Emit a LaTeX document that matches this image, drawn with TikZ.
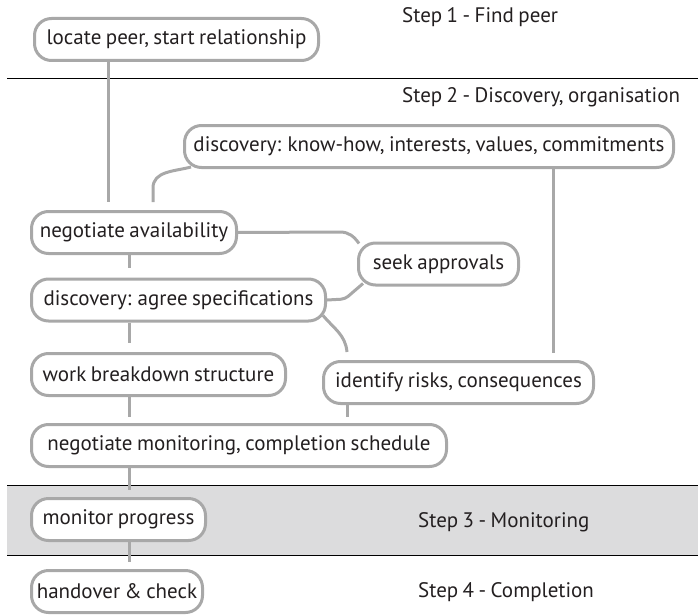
\documentclass[tikz,border=0pt]{standalone}
\usepackage{fontspec}
\setmainfont{PT Sans}[WordSpace=0.8]
\definecolor{pillgray}{HTML}{A8A8A8}
\definecolor{bandgray}{HTML}{DCDCDD}
\definecolor{inkdark}{HTML}{231F20}
\begin{document}
\begin{tikzpicture}[x=1pt,y=-1pt,
  pill/.style={draw=pillgray, line width=3pt, fill=white, rounded corners=17pt,
    minimum height=42pt, inner sep=0pt, text=inkdark,
    font=\fontsize{21}{24}\selectfont},
  conn/.style={draw=pillgray, line width=3pt},
  steplabel/.style={anchor=west, inner sep=0pt, text=inkdark,
    font=\fontsize{21}{24}\selectfont},
  divider/.style={draw=black, line width=0.8pt}]
\useasboundingbox (0,0) rectangle (698,615);

% phase separators and the shaded monitoring band
\fill[bandgray] (7,485) rectangle (698,555);
\draw[divider] (7,78) -- (698,78);
\draw[divider] (7,485) -- (698,485);
\draw[divider] (7,555) -- (698,555);

% phase titles
\node[steplabel] (s1) at (402,17) {Step 1 - Find peer};
\node[steplabel] (s2) at (402,97) {Step 2 - Discovery, organisation};
\node[steplabel] (s3) at (418,522) {Step 3 - Monitoring};
\node[steplabel] (s4) at (418,592) {Step 4 - Completion};

% connector end points
\coordinate (e1) at (108,202);
\coordinate (e2) at (153,202);
\coordinate (e3) at (129,268);
\coordinate (e4) at (129,343);
\coordinate (e5) at (347,352);
\coordinate (e6) at (553,353);
\coordinate (e7) at (129,417);
\coordinate (e8) at (347,417);
\coordinate (e9) at (129,490);
\coordinate (e10) at (129,562);

% activity boxes
\node[pill, minimum width=284pt] (locate) at (176.5,39.5) {locate peer, start relationship};
\node[pill, minimum width=489pt] (knowhow) at (429,146.5) {discovery: know-how, interests, values, commitments};
\node[pill, minimum width=205pt] (negavail) at (134,232.5) {negotiate availability};
\node[pill, minimum width=160pt] (seek) at (438.5,264) {seek approvals};
\node[pill, minimum width=294pt] (agree) at (178.5,300) {discovery: agree specifications};
\node[pill, minimum width=254pt] (wbs) at (158.5,374.5) {work breakdown structure};
\node[pill, minimum width=270pt] (risks) at (458.5,382.5) {identify risks, consequences};
\node[pill, minimum width=415pt] (negmon) at (239,445.5) {negotiate monitoring, completion schedule};
\node[pill, minimum width=174pt] (monitor) at (118.5,519.5) {monitor progress};
\node[pill, minimum width=171pt] (handover) at (117,591.5) {handover \& check};

% connectors
\draw[conn] (e1 |- locate.south) -- (e1);
\draw[conn] ([xshift=8pt,yshift=2pt]knowhow.south west) to[out=195,in=90] (153,188) -- (e2);
\draw[conn] (e3 |- negavail.south) -- (e3);
\draw[conn] (negavail.east) -- (340,232) to[out=0,in=125] ([xshift=2pt,yshift=-2pt]seek.north west);
\draw[conn, rounded corners=4pt] (agree.east) -- (345,299) -- ([xshift=6pt,yshift=3pt]seek.south west);
\draw[conn] ([xshift=-4pt,yshift=7pt]agree.south east) to[out=-50,in=95] (e5);
\draw[conn] (e4 |- agree.south) -- (e4);
\draw[conn] (e6 |- knowhow.south) -- (e6);
\draw[conn] (e7 |- wbs.south) -- (e7);
\draw[conn] (e8 |- risks.south) -- (e8);
\draw[conn] (e9 |- negmon.south) -- (e9);
\draw[conn] (e10 |- monitor.south) -- (e10);
\end{tikzpicture}
\end{document}
